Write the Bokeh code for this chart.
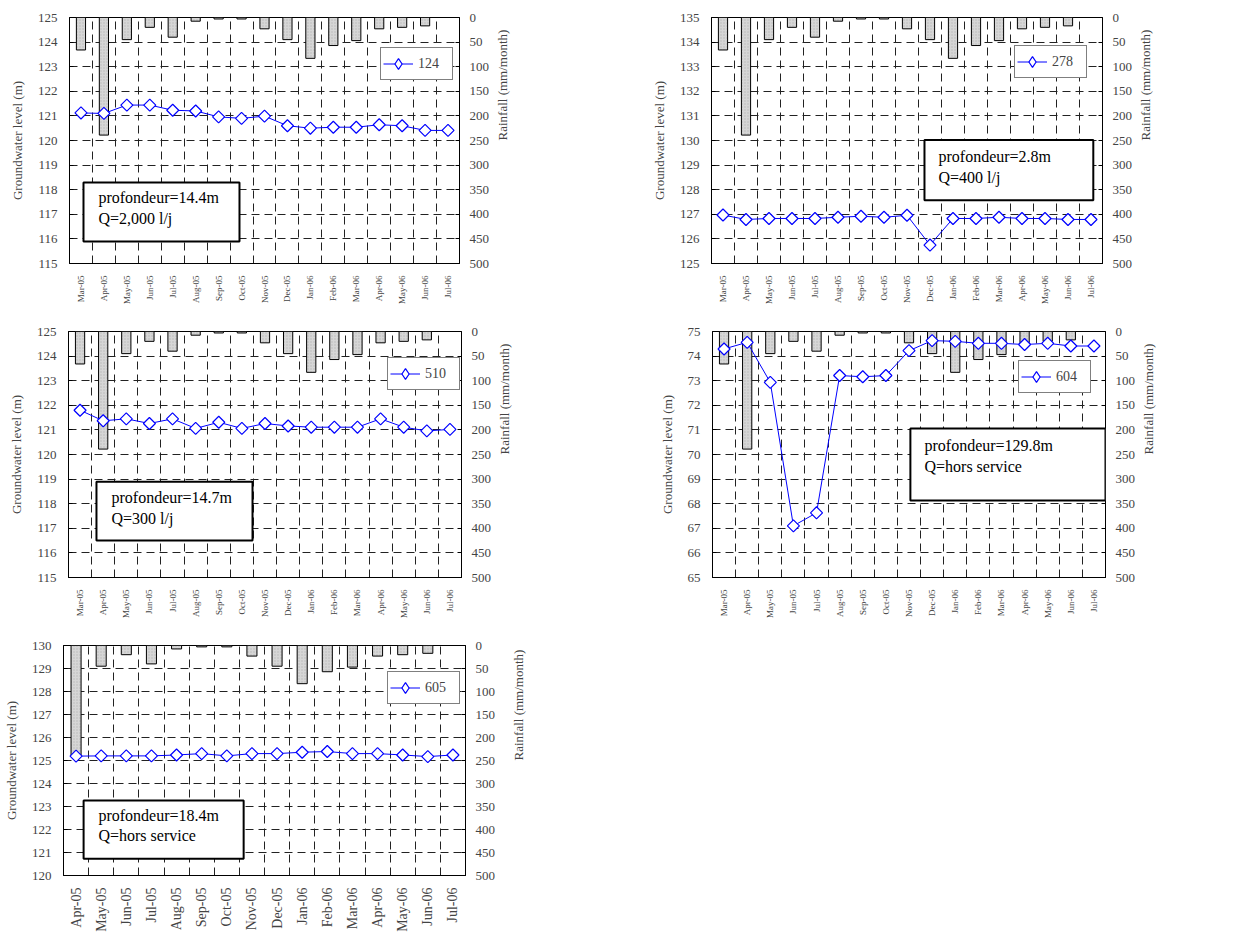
import math
import numpy as np
from bokeh.plotting import figure
from bokeh.models import (Range1d, LinearAxis, FixedTicker, Legend, LegendItem,
                          BoxAnnotation, Label)
from bokeh.layouts import column, row
from bokeh.embed import file_html
from bokeh.resources import INLINE

# Monthly observation period
months = ["Mar-05", "Apr-05", "May-05", "Jun-05", "Jul-05", "Aug-05", "Sep-05",
          "Oct-05", "Nov-05", "Dec-05", "Jan-06", "Feb-06", "Mar-06", "Apr-06",
          "May-06", "Jun-06", "Jul-06"]

# Monthly rainfall (mm/month)
rain = [66, 239, 45, 20, 40, 7.5, 3, 3, 23, 45, 83, 57, 47, 23, 20, 17, 0]

# Groundwater levels (m) per well
lvl_124 = [121.12, 121.10, 121.44, 121.44, 121.23, 121.20, 120.96, 120.90, 120.99,
           120.60, 120.50, 120.54, 120.54, 120.64, 120.60, 120.41, 120.41]
lvl_278 = [126.97, 126.79, 126.83, 126.83, 126.83, 126.88, 126.92, 126.88, 126.96,
           125.75, 126.83, 126.83, 126.88, 126.83, 126.83, 126.79, 126.79]
lvl_510 = [121.80, 121.37, 121.45, 121.26, 121.45, 121.06, 121.31, 121.06, 121.26,
           121.16, 121.11, 121.11, 121.11, 121.45, 121.11, 120.96, 121.02]
lvl_604 = [74.29, 74.56, 72.93, 67.10, 67.63, 73.21, 73.16, 73.21, 74.22,
           74.63, 74.60, 74.52, 74.52, 74.47, 74.52, 74.41, 74.41]
lvl_605 = [125.19, 125.20, 125.20, 125.20, 125.24, 125.30, 125.20, 125.30,
           125.30, 125.36, 125.39, 125.30, 125.30, 125.24, 125.17, 125.24]

well_info = {
    "124": ("profondeur=14.4m", "Q=2,000 l/j"),
    "278": ("profondeur=2.8m", "Q=400 l/j"),
    "510": ("profondeur=14.7m", "Q=300 l/j"),
    "604": ("profondeur=129.8m", "Q=hors service"),
    "605": ("profondeur=18.4m", "Q=hors service"),
}

SERIF = "Liberation Serif"
BLUE = "#0000ff"


def make_panel(well, labels, rainfall, levels, ylo, yhi, size, borders,
               legend_xy, box, text_xy, xlab_size, rlab_standoff):
    n = len(labels)
    x = np.arange(n) + 0.5
    w, h = size
    bl, br, bt, bb = borders
    p = figure(width=w, height=h, x_range=Range1d(0, n), y_range=Range1d(ylo, yhi),
               output_backend="svg", toolbar_location=None,
               min_border_left=bl, min_border_right=br,
               min_border_top=bt, min_border_bottom=bb)
    p.extra_y_ranges = {"rain": Range1d(500, 0)}
    p.background_fill_color = "white"
    p.outline_line_color = "black"
    p.outline_line_width = 1

    # grid: horizontal at level ticks, vertical between months
    p.ygrid.ticker = FixedTicker(ticks=list(range(int(ylo), int(yhi) + 1)))
    p.ygrid.grid_line_color = "#222222"
    p.ygrid.grid_line_dash = "8 5"
    p.xgrid.ticker = FixedTicker(ticks=list(range(1, n)))
    p.xgrid.grid_line_color = "#222222"
    p.xgrid.grid_line_dash = "8 5"

    # left axis (groundwater level)
    ya = p.yaxis[0]
    ya.ticker = FixedTicker(ticks=list(range(int(ylo), int(yhi) + 1)))
    ya.axis_label = "Groundwater level (m)"
    ya.axis_label_text_font = SERIF
    ya.axis_label_text_font_style = "normal"
    ya.axis_label_text_font_size = "13px"
    ya.axis_label_standoff = 10
    ya.major_label_text_font = SERIF
    ya.major_label_text_font_size = "13px"
    ya.major_tick_in = 4
    ya.major_tick_out = 0
    ya.minor_tick_line_color = None
    ya.major_label_standoff = 12

    # right axis (rainfall), read bottom to top like the left one
    ra = LinearAxis(y_range_name="rain", ticker=FixedTicker(ticks=list(range(0, 501, 50))))
    ra.axis_label = "Rainfall (mm/month)"
    ra.axis_label_orientation = math.pi / 2
    ra.axis_label_text_font = SERIF
    ra.axis_label_text_font_style = "normal"
    ra.axis_label_text_font_size = "13px"
    ra.axis_label_standoff = rlab_standoff
    ra.major_label_text_font = SERIF
    ra.major_label_text_font_size = "13px"
    ra.major_tick_in = 4
    ra.major_tick_out = 0
    ra.minor_tick_line_color = None
    ra.major_label_standoff = 10
    p.add_layout(ra, "right")

    # bottom axis (months)
    xa = p.xaxis[0]
    xa.ticker = FixedTicker(ticks=list(x))
    xa.major_label_overrides = {float(v): lab for v, lab in zip(x, labels)}
    xa.major_label_orientation = math.pi / 2
    xa.major_label_text_font = SERIF
    xa.major_label_text_font_size = xlab_size
    xa.major_tick_line_color = None
    xa.minor_tick_line_color = None
    xa.major_label_standoff = 6

    # rainfall bars hanging from the top
    p.vbar(x=x, width=0.4, top=0, bottom=rainfall, y_range_name="rain",
           fill_color="#d6d6d6", line_color="black", line_width=1,
           hatch_pattern="dot", hatch_color="#9a9a9a", hatch_scale=3,
           hatch_alpha=0.5)

    # groundwater level series
    ln = p.line(x, levels, line_color=BLUE, line_width=1)
    # small diamonds that serve as the legend key (hidden under the markers)
    key = p.scatter(x, levels, marker="diamond", size=4, fill_color="white",
                    line_color=BLUE, line_width=1.2)
    # point markers: squares turned by 45 degrees
    p.scatter(x, levels, marker="square", angle=math.pi / 4, size=8.5,
              fill_color="white", line_color=BLUE, line_width=1.2)

    leg = Legend(items=[LegendItem(label=well, renderers=[ln, key])],
                 location=legend_xy, orientation="vertical",
                 label_text_font=SERIF, label_text_font_size="14px",
                 glyph_width=30, glyph_height=27, label_standoff=5,
                 label_width=32, padding=2, margin=0, spacing=0,
                 border_line_color="black", border_line_width=1,
                 background_fill_color="white", background_fill_alpha=1)
    p.add_layout(leg, "center")

    # well description box
    bx0, bx1, by0, by1 = box
    p.add_layout(BoxAnnotation(left=bx0, right=bx1, bottom=by0, top=by1,
                               fill_color="white", fill_alpha=1,
                               line_color="black", line_width=2, line_alpha=1))
    tx, ty1, ty2 = text_xy
    line1, line2 = well_info[well]
    for txt, ty in ((line1, ty1), (line2, ty2)):
        p.add_layout(Label(x=tx, y=ty, text=txt, text_font=SERIF,
                           text_font_size="16px", text_baseline="top",
                           text_align="left", text_color="black"))
    return p


p1 = make_panel("124", months, rain, lvl_124, 115, 125, (620, 310), (69, 161, 17, 47),
                (311, 183), (0.61, 7.41, 115.89, 118.29), (1.26, 118.04, 117.18),
                "9px", 10)
p2 = make_panel("278", months, rain, lvl_278, 125, 135, (620, 310), (91, 138, 17, 44),
                (303, 185), (9.26, 16.6, 127.57, 130.02), (9.87, 129.7, 128.86),
                "9px", 10)
p3 = make_panel("510", months, rain, lvl_510, 115, 125, (620, 310), (68, 159, 21, 42),
                (319, 187), (1.21, 7.96, 116.5, 118.89), (1.86, 118.6, 117.75),
                "9px", 10)
p4 = make_panel("604", months, rain, lvl_604, 65, 75, (620, 310), (92, 135, 21, 40),
                (306, 184), (8.56, 17.0, 68.13, 71.06), (9.17, 70.7, 69.86),
                "9px", 10)
p5 = make_panel("605", months[1:], rain[1:], lvl_605, 120, 130, (620, 314), (63, 155, 25, 56),
                (324, 171), (0.8, 7.17, 120.73, 123.26), (1.39, 123.0, 122.1),
                "14px", 20)

layout = column(row(p1, p2), row(p3, p4), row(p5))
open("out.html", "w").write(file_html(layout, INLINE))
